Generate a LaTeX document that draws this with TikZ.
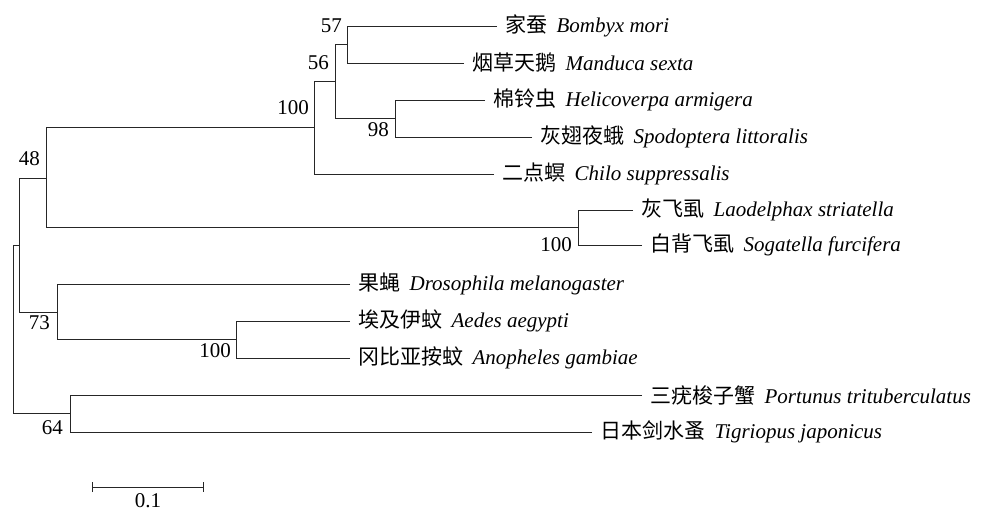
\documentclass[tikz,border=0pt]{standalone}
\usepackage{fontspec}
\setmainfont{Liberation Serif}
\newfontfamily\cjk{Noto Sans CJK SC}
\usetikzlibrary{arrows.meta, positioning}

\begin{document}
\begin{tikzpicture}[
    x=1pt, y=-1pt,
    every node/.style={font=\fontsize{21}{25}\selectfont},
    leaf/.style={anchor=west, inner xsep=8pt, inner ysep=0pt},
    bs/.style={inner sep=0pt},
    branch/.style={line width=0.8pt, black!85}
]
\useasboundingbox (0,0) rectangle (984,510);

% internal nodes
\coordinate (n57) at (347,44.5);
\coordinate (n98) at (395,118.5);
\coordinate (n56) at (335,81.5);
\coordinate (lep) at (314,127.75);
\coordinate (nph) at (578,227.5);
\coordinate (n48) at (46,178);
\coordinate (dip) at (236,339.5);
\coordinate (n73) at (57,312);
\coordinate (ins) at (19,245);
\coordinate (n64) at (70,413.5);
\coordinate (root) at (13,329);

% leaves
\node[leaf] (bmori) at (497,26) {{\cjk 家蚕}\hspace{0.45em}\textit{Bombyx mori}};
\node[leaf] (msexta) at (464,63) {{\cjk 烟草天鹅}\hspace{0.45em}\textit{Manduca sexta}};
\node[leaf] (harm) at (485,100) {{\cjk 棉铃虫}\hspace{0.45em}\textit{Helicoverpa armigera}};
\node[leaf] (slit) at (532,137) {{\cjk 灰翅夜蛾}\hspace{0.45em}\textit{Spodoptera littoralis}};
\node[leaf] (csup) at (494,174) {{\cjk 二点螟}\hspace{0.45em}\textit{Chilo suppressalis}};
\node[leaf] (lstr) at (633,210) {{\cjk 灰飞虱}\hspace{0.45em}\textit{Laodelphax striatella}};
\node[leaf] (sfur) at (642,245) {{\cjk 白背飞虱}\hspace{0.45em}\textit{Sogatella furcifera}};
\node[leaf] (dmel) at (350,284) {{\cjk 果蝇}\hspace{0.45em}\textit{Drosophila melanogaster}};
\node[leaf] (aaeg) at (350,321) {{\cjk 埃及伊蚊}\hspace{0.45em}\textit{Aedes aegypti}};
\node[leaf] (agam) at (350,358) {{\cjk 冈比亚按蚊}\hspace{0.45em}\textit{Anopheles gambiae}};
\node[leaf] (ptri) at (642,395) {{\cjk 三疣梭子蟹}\hspace{0.45em}\textit{Portunus trituberculatus}};
\node[leaf] (tjap) at (592,432) {{\cjk 日本剑水蚤}\hspace{0.45em}\textit{Tigriopus japonicus}};

% branches
\draw[branch] (bmori.west) -| (n57);
\draw[branch] (msexta.west) -| (n57);
\draw[branch] (harm.west) -| (n98);
\draw[branch] (slit.west) -| (n98);
\draw[branch] (n57) -| (n56);
\draw[branch] (n98) -| (n56);
\draw[branch] (n56) -| (lep);
\draw[branch] (csup.west) -| (lep);
\draw[branch] (lstr.west) -| (nph);
\draw[branch] (sfur.west) -| (nph);
\draw[branch] (lep) -| (n48);
\draw[branch] (nph) -| (n48);
\draw[branch] (aaeg.west) -| (dip);
\draw[branch] (agam.west) -| (dip);
\draw[branch] (dmel.west) -| (n73);
\draw[branch] (dip) -| (n73);
\draw[branch] (n48) -| (ins);
\draw[branch] (n73) -| (ins);
\draw[branch] (ptri.west) -| (n64);
\draw[branch] (tjap.west) -| (n64);
\draw[branch] (ins) -| (root);
\draw[branch] (n64) -| (root);

% bootstrap values
\node[bs, above left=11.5pt and 5pt of n57] {57};
\node[bs, above left=11.5pt and 6pt of n56] {56};
\node[bs, above left=13pt and 5pt of lep] {100};
\node[bs, below left=3.5pt and 6pt of n98] {98};
\node[bs, above left=12pt and 6pt of n48] {48};
\node[bs, below left=10pt and 6pt of nph] {100};
\node[bs, below left=3pt and 7pt of n73] {73};
\node[bs, below left=3.5pt and 5pt of dip] {100};
\node[bs, below left=7pt and 7pt of n64] {64};

% scale bar
\coordinate (sba) at (92,487);
\coordinate (sbb) at (204,487);
\draw[branch, {Bar[width=10pt]}-{Bar[width=10pt]}] (sba) -- (sbb);
\node[bs] (sblab) at (148,500.5) {0.1};
\end{tikzpicture}
\end{document}
